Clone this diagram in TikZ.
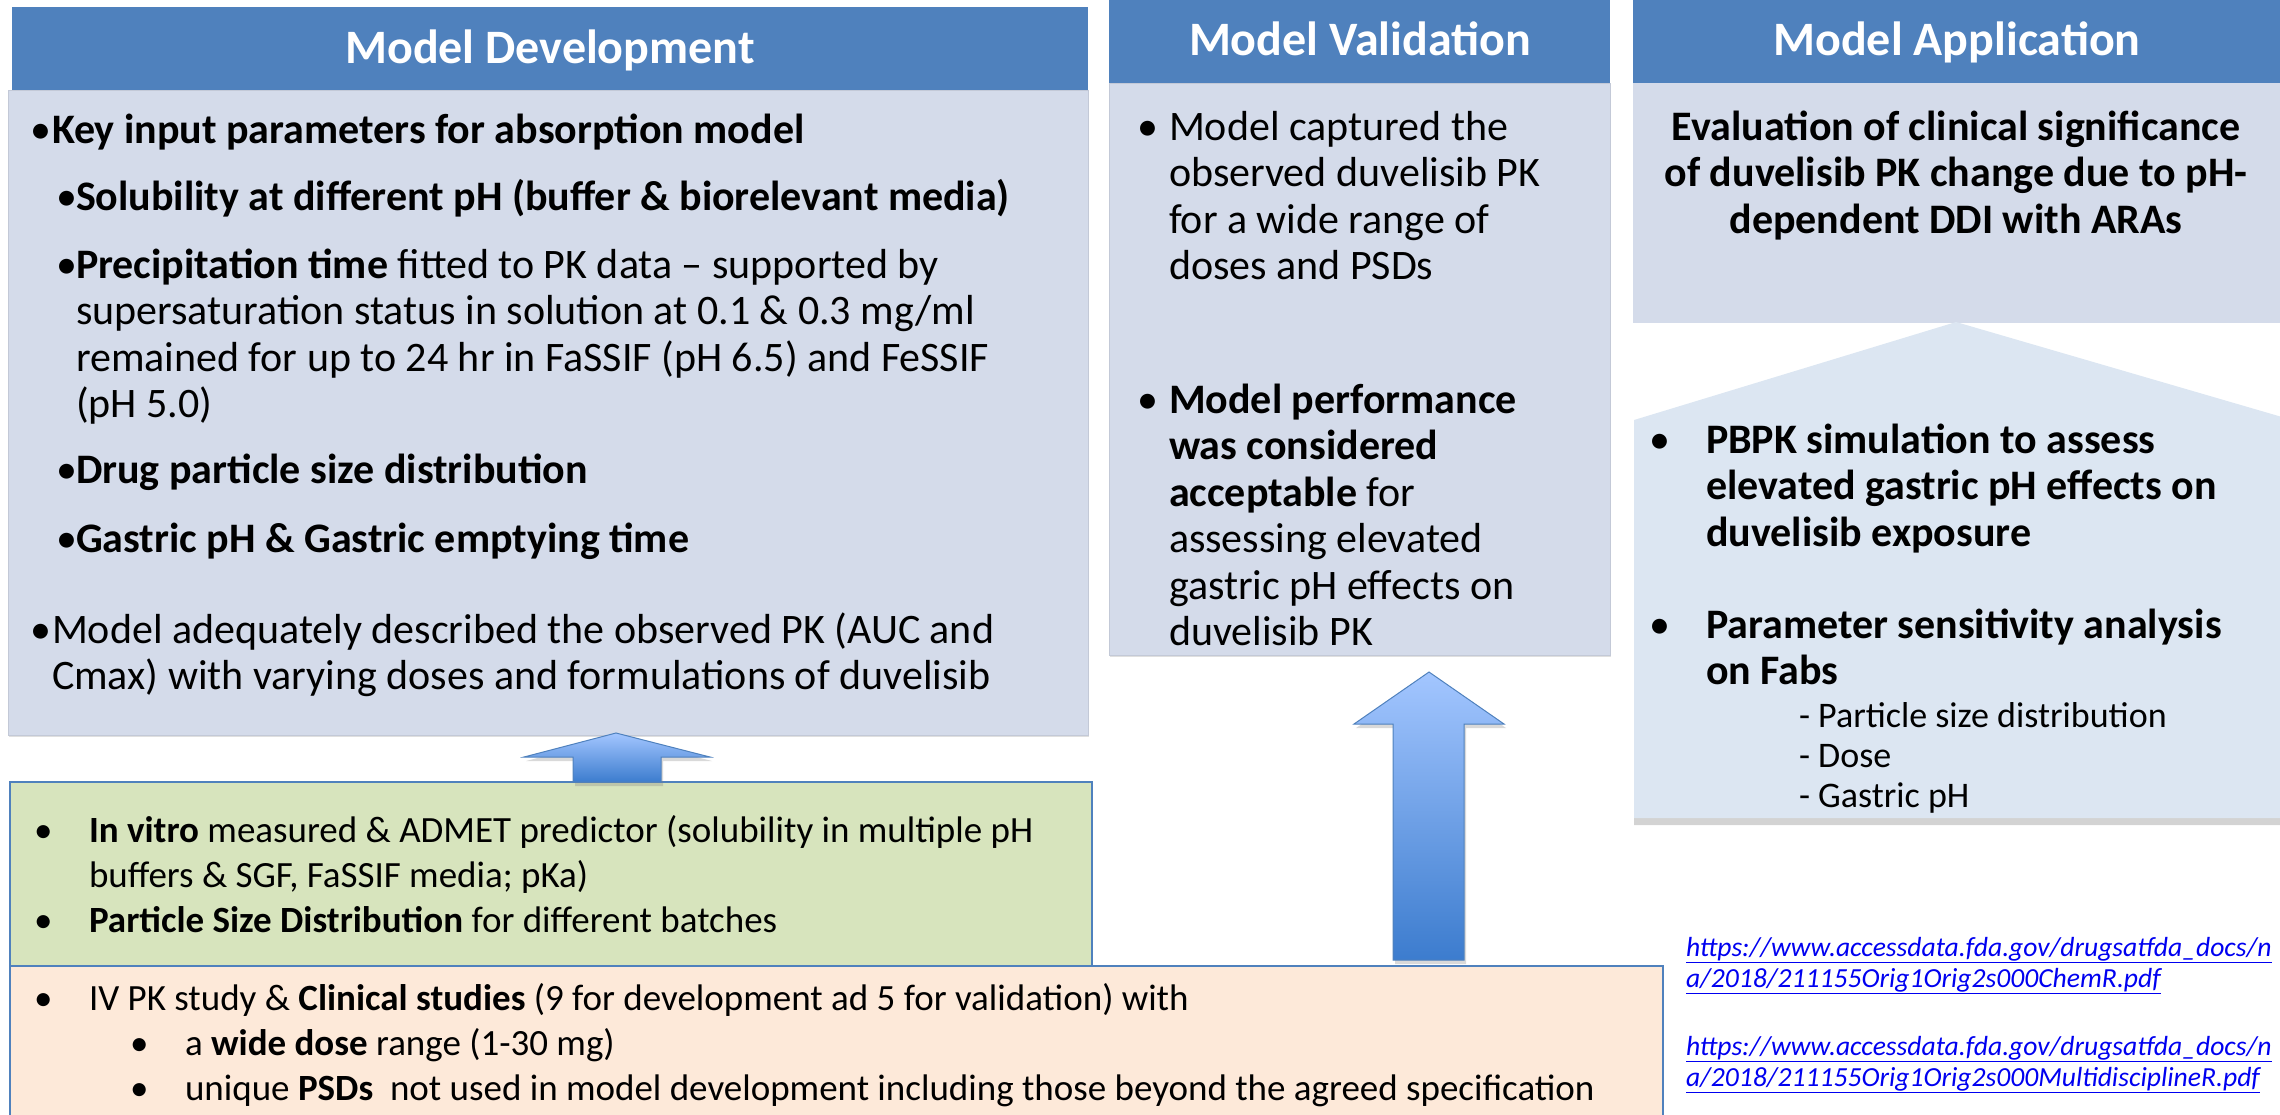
\documentclass[tikz,border=0pt]{standalone}
\usepackage{fontspec}
\setmainfont{Carlito}
\usetikzlibrary{shadows}
\definecolor{hdr}{HTML}{4F81BD}
\definecolor{bodyc}{HTML}{D4DBEA}
\definecolor{pentc}{HTML}{DCE6F2}
\definecolor{greenc}{HTML}{D7E4BD}
\definecolor{peachc}{HTML}{FDE9D9}
\definecolor{linkc}{HTML}{0000F0}
\definecolor{arrtop}{HTML}{A3C6FF}
\definecolor{arrbot}{HTML}{3C7CCE}
\newcommand{\mlines}[1]{\begin{tabular}[t]{@{}l@{}}#1\end{tabular}}
\newcommand{\clines}[1]{\begin{tabular}[t]{@{}c@{}}#1\end{tabular}}
\begin{document}
\begin{tikzpicture}[x=1pt,y=-1pt,
  every node/.style={inner sep=0pt,outer sep=0pt},
  hdrbox/.style={fill=hdr,draw=none},
  bodybox/.style={fill=bodyc,draw=bodyc!92!black,line width=0.8pt,
     drop shadow={shadow xshift=1pt,shadow yshift=-2pt,opacity=0.25}},
  ttl/.style={font=\fontsize{48}{54}\selectfont\bfseries,text=white,anchor=base},
  big/.style={font=\fontsize{42}{46.5}\selectfont,anchor=base west},
  bigc/.style={font=\fontsize{42}{46.5}\selectfont\bfseries,anchor=base},
  sub/.style={font=\fontsize{36}{40}\selectfont,anchor=base west},
  small/.style={font=\fontsize{37}{45}\selectfont,anchor=base west},
  bul/.style={font=\fontsize{42}{46.5}\selectfont,anchor=base west},
  sbul/.style={font=\fontsize{37}{45}\selectfont,anchor=base west},
  lnk/.style={font=\fontsize{27.6}{32}\selectfont\itshape,text=linkc,anchor=base west},
  uparrow/.style={top color=arrtop,bottom color=arrbot,draw=hdr,line width=1pt,
     drop shadow={shadow xshift=2pt,shadow yshift=-4pt,opacity=0.3}},
  inbox/.style={line width=1.5pt,draw=hdr}
]
\useasboundingbox (0,0) rectangle (2280,1114);
\clip (0,0) rectangle (2280,1114);

% ---------- Model Development ----------
\path[bodybox] (8,90) rectangle (1088,735);
\path[hdrbox] (12,7) rectangle (1088,90);
\node[ttl] (tdev) at (550,63) {Model Development};

\node[bul] (bd1) at (30,143) {•};
\node[big] (d1) at (52,143) {\textbf{Key input parameters for absorption model}};
\node[bul] (bd2) at (56,210) {•};
\node[big] (d2) at (76,210) {\textbf{Solubility at different pH (buffer \& biorelevant media)}};
\node[bul] (bd3) at (56,278) {•};
\node[big] (d3) at (76,278) {\mlines{\textbf{Precipitation time} fitted to PK data – supported by\\
supersaturation status in solution at 0.1 \& 0.3 mg/ml\\
remained for up to 24 hr in FaSSIF (pH 6.5) and FeSSIF\\
(pH 5.0)}};
\node[bul] (bd4) at (56,483) {•};
\node[big] (d4) at (76,483) {\textbf{Drug particle size distribution}};
\node[bul] (bd5) at (56,552) {•};
\node[big] (d5) at (76,552) {\textbf{Gastric pH \& Gastric emptying time}};
\node[bul] (bd6) at (30,643) {•};
\node[big] (d6) at (52,643) {\mlines{Model adequately described the observed PK (AUC and\\
Cmax) with varying doses and formulations of duvelisib}};

% ---------- Model Validation ----------
\path[bodybox] (1109,83) rectangle (1610,655);
\path[hdrbox] (1109,0) rectangle (1610,83);
\node[ttl] (tval) at (1360,55) {Model Validation};
\node[bul] (bv1) at (1137,140) {•};
\node[big] (v1) at (1169,140) {\mlines{Model captured the\\ observed duvelisib PK\\ for a wide range of\\ doses and PSDs}};
\node[bul] (bv2) at (1137,413) {•};
\node[big] (v2) at (1169,413) {\mlines{\textbf{Model performance}\\ \textbf{was considered}\\ \textbf{acceptable} for\\ assessing elevated\\ gastric pH effects on\\ duvelisib PK}};

% ---------- Model Application ----------
\path[fill=bodyc] (1633,83) rectangle (2290,323);
\path[hdrbox] (1633,0) rectangle (2290,83);
\node[ttl] (tapp) at (1957,55) {Model Application};
\node[bigc] (a0) at (1956,140) {\clines{Evaluation of clinical significance\\ of duvelisib PK change due to pH-\\ dependent DDI with ARAs}};

\path[fill=pentc,drop shadow={shadow xshift=0pt,shadow yshift=-7pt,opacity=0.35}]
  (1634,420) -- (1956,322) -- (2282,417) -- (2282,818) -- (1634,818) -- cycle;
\node[bul] (ba1) at (1649,453) {•};
\node[big] (a1) at (1706,453) {\mlines{\textbf{PBPK simulation to assess}\\ \textbf{elevated gastric pH effects on}\\ \textbf{duvelisib exposure}}};
\node[bul] (ba2) at (1649,638) {•};
\node[big] (a2) at (1706,638) {\mlines{\textbf{Parameter sensitivity analysis}\\ \textbf{on Fabs}}};
\node[sub] (a3) at (1799,727) {\mlines{- Particle size distribution\\ - Dose\\ - Gastric pH}};

% ---------- Input boxes ----------
\path[fill=greenc,inbox] (10,782) rectangle (1092,966);
\path[fill=peachc,inbox] (10,966) rectangle (1663,1125);

\node[sbul] (bg1) at (34,842) {•};
\node[small] (g1) at (89,842) {\mlines{\textbf{In vitro} measured \& ADMET predictor (solubility in multiple pH\\ buffers \& SGF, FaSSIF media; pKa)}};
\node[sbul] (bg2) at (34,932) {•};
\node[small] (g2) at (89,932) {\textbf{Particle Size Distribution} for different batches};

\node[sbul] (bp1) at (34,1010) {•};
\node[small] (p1) at (89,1010) {IV PK study \& \textbf{Clinical studies} (9 for development ad 5 for validation) with};
\node[sbul] (bp2) at (130,1055) {•};
\node[small] (p2) at (185,1055) {a \textbf{wide dose} range (1-30 mg)};
\node[sbul] (bp3) at (130,1100) {•};
\node[small] (p3) at (185,1100) {unique \textbf{PSDs}\ \ not used in model development including those beyond the agreed specification};

% ---------- Arrows ----------
\path[uparrow] (616,733) -- (710,757) -- (661,757) -- (661,782) -- (573,782) -- (573,757) -- (524,757) -- cycle;
\path[uparrow] (1429,672) -- (1504,724) -- (1464,724) -- (1464,960) -- (1393,960) -- (1393,724) -- (1354,724) -- cycle;

% ---------- Links ----------
\node[lnk] (l1) at (1686,956) {\underline{https://www.accessdata.fda.gov/drugsatfda\_docs/n}};
\node[lnk] (l2) at (1686,987) {\underline{a/2018/211155Orig1Orig2s000ChemR.pdf}};
\node[lnk] (l3) at (1686,1055) {\underline{https://www.accessdata.fda.gov/drugsatfda\_docs/n}};
\node[lnk] (l4) at (1686,1086) {\underline{a/2018/211155Orig1Orig2s000MultidisciplineR.pdf}};
\end{tikzpicture}
\end{document}
